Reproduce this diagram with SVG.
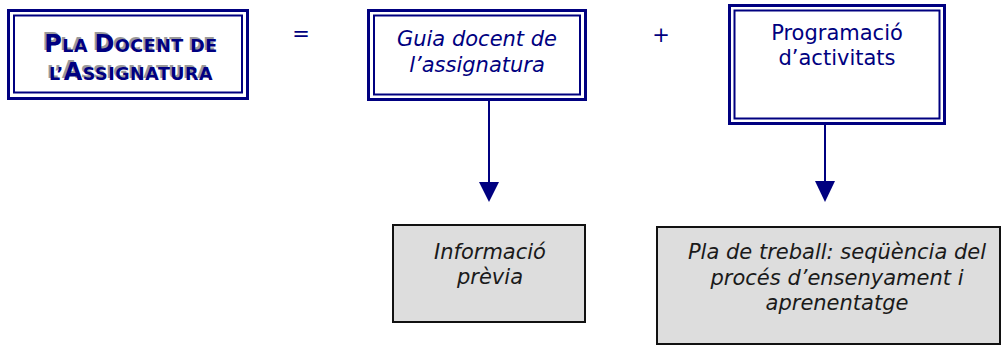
<svg xmlns="http://www.w3.org/2000/svg" width="1006" height="347" viewBox="0 0 1006 347">
<style>
.outer{fill:none;stroke:#000080;stroke-width:3}
.inner{fill:none;stroke:#000080;stroke-width:2}
.gray{fill:#dddddd;stroke:#111111;stroke-width:2}
.t{font-family:"DejaVu Sans",Verdana,sans-serif;font-size:21px;text-anchor:middle}
.nv{fill:#000080}
.it{font-style:italic}
.bk{fill:#1a1a1a}
.sc{font-family:"DejaVu Sans",Verdana,sans-serif;font-weight:bold;text-anchor:middle;letter-spacing:0.5px;font-size:17.5px}
.big{font-size:24px}
.line{stroke:#000080;stroke-width:2;fill:none}
.head{fill:#000080}
</style>
<rect width="1006" height="347" fill="#ffffff"/>
<g id="pla-docent">
<rect class="outer" x="8.5" y="10.5" width="239" height="88"/>
<rect class="inner" x="14" y="15.5" width="228" height="77"/>
<text class="sc" x="129" y="50" fill="#9a9a9a"><tspan class="big">P</tspan>LA <tspan class="big">D</tspan>OCENT DE</text>
<text class="sc" x="129" y="78" fill="#9a9a9a">L’<tspan class="big">A</tspan>SSIGNATURA</text>
<text class="sc" x="131" y="52" fill="#000080"><tspan class="big">P</tspan>LA <tspan class="big">D</tspan>OCENT DE</text>
<text class="sc" x="131" y="80" fill="#000080">L’<tspan class="big">A</tspan>SSIGNATURA</text>
</g>
<g id="eq"><text class="t nv" x="301" y="41" font-size="16">=</text></g>
<g id="guia">
<rect class="outer" x="368.5" y="10.5" width="217" height="89"/>
<rect class="inner" x="374" y="15.5" width="206" height="79"/>
<text class="t nv it" x="477" y="46">Guia docent de</text>
<text class="t nv it" x="477" y="72">l’assignatura</text>
</g>
<g id="plus"><text class="t nv" x="661" y="42" font-size="16">+</text></g>
<g id="programacio">
<rect class="outer" x="729.5" y="5.5" width="215" height="118"/>
<rect class="inner" x="734.5" y="10.5" width="205" height="108"/>
<text class="t nv" x="837" y="40">Programació</text>
<text class="t nv" x="837" y="65">d’activitats</text>
</g>
<g id="informacio">
<rect class="gray" x="393" y="225" width="192" height="97"/>
<text class="t bk it" x="490" y="259">Informació</text>
<text class="t bk it" x="490" y="284">prèvia</text>
</g>
<g id="pla-treball">
<rect class="gray" x="657" y="227" width="343" height="117"/>
<text class="t bk it" x="837" y="259">Pla de treball: seqüència del</text>
<text class="t bk it" x="837" y="285">procés d’ensenyament i</text>
<text class="t bk it" x="837" y="310">aprenentatge</text>
</g>
<g id="connectors">
<line class="line" x1="489" y1="100" x2="489" y2="184"/>
<polygon class="head" points="479,182 499,182 489,202"/>
<line class="line" x1="825" y1="124" x2="825" y2="183"/>
<polygon class="head" points="815,181 835,181 825,202"/>
</g>
</svg>
